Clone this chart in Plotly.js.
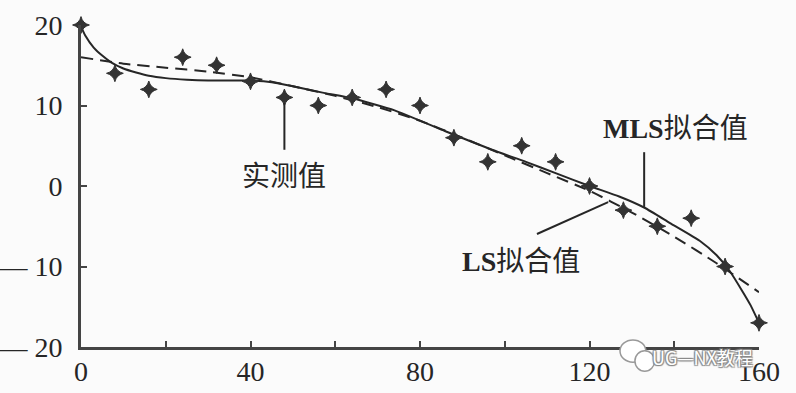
<!DOCTYPE html>
<html>
<head>
<meta charset="utf-8">
<script src="https://cdn.plot.ly/plotly-3.0.1.min.js"></script>
<style>
html,body{margin:0;padding:0;background:#fbfbfb;}
#chart{width:796px;height:393px;}
</style>
</head>
<body>
<div id="chart"></div>
<script>
// Measured values (实测值)
const measX = [0, 8, 16, 24, 32, 40, 48, 56, 64, 72, 80, 88, 96, 104, 112, 120, 128, 136, 144, 152, 160];
const measY = [20, 14, 12, 16, 15, 13, 11, 10, 11, 12, 10, 6, 3, 5, 3, 0, -3, -5, -4, -10, -17];

// MLS fitted curve (MLS拟合值)
const mlsX = [0, 1, 3, 5, 7, 10, 13, 16, 20, 25, 30, 40, 45, 50, 57, 64, 74, 86, 97, 105, 112, 120, 127, 133, 139, 146, 150, 153, 156, 158, 160];
const mlsY = [19.8, 18.7, 17.2, 16.2, 15.4, 14.6, 14.1, 13.7, 13.4, 13.2, 13.1, 13.1, 12.9, 12.4, 11.6, 10.9, 9.4, 6.8, 4.5, 3.0, 1.6, 0, -1.3, -2.7, -4.6, -6.8, -8.6, -10.5, -13, -14.8, -17];

// LS fitted curve (LS拟合值)
const lsX = [0, 10, 20, 30, 40, 50, 60, 70, 80, 90, 100, 110, 120, 130, 140, 150, 160];
const lsY = [16, 15.2, 14.7, 14.2, 13.5, 12.4, 11.2, 9.8, 8.1, 6.0, 3.8, 1.6, -0.6, -3.3, -6.3, -9.6, -13.2];

// Tick labels
const xTickVals = [0, 20, 40, 60, 80, 100, 120, 140, 160];
const xTickText = ['0', '', '40', '', '80', '', '120', '', '160'];
const yTickVals = [-20, -10, 0, 10, 20];
const yTickText = ['— 20', '— 10', '0', '10', '20'];

const ink = '#262626';
const serif = 'Liberation Serif, "Noto Sans CJK SC", serif';
const labelFont = {family: serif, size: 28, color: ink};

const traces = [
  {x: mlsX, y: mlsY, mode: 'lines', line: {color: ink, width: 2, shape: 'spline', smoothing: 0.5}, hoverinfo: 'skip', cliponaxis: false},
  {x: lsX, y: lsY, mode: 'lines', line: {color: ink, width: 2, dash: '12px,7px', shape: 'spline', smoothing: 0.6}, hoverinfo: 'skip', cliponaxis: false},
  {x: measX, y: measY, mode: 'markers', marker: {symbol: 'star-diamond', size: 12, color: '#333', line: {color: '#333', width: 1}}, cliponaxis: false}
];

const layout = {
  width: 796, height: 393,
  margin: {l: 81, r: 37, t: 25, b: 46},
  paper_bgcolor: '#fbfbfb',
  plot_bgcolor: '#fbfbfb',
  showlegend: false,
  xaxis: {
    range: [0, 160], tickvals: xTickVals, ticktext: xTickText,
    showline: true, linecolor: '#444', linewidth: 3, zeroline: false, showgrid: false,
    ticks: 'inside', ticklen: 6, tickwidth: 2, tickcolor: '#444',
    tickfont: {family: serif, size: 28, color: ink}, ticklabelstandoff: -3
  },
  yaxis: {
    range: [-20, 20], tickvals: yTickVals, ticktext: yTickText,
    showline: true, linecolor: '#444', linewidth: 3, zeroline: false, showgrid: false,
    ticks: 'inside', ticklen: 6, tickwidth: 2, tickcolor: '#444',
    tickfont: {family: serif, size: 28, color: ink}, ticklabelstandoff: 10
  },
  shapes: [
    {type: 'line', xref: 'x', yref: 'y', x0: 48, x1: 48, y0: 10.3, y1: 4.5, line: {color: ink, width: 2}},
    {type: 'line', xref: 'x', yref: 'y', x0: 132.9, x1: 132.9, y0: 4.2, y1: -2.6, line: {color: ink, width: 2}},
    {type: 'line', xref: 'x', yref: 'y', x0: 107.6, x1: 124.4, y0: -5.96, y1: -2.0, line: {color: ink, width: 2}},
    {type: 'circle', xref: 'paper', yref: 'paper', x0: 0.795, x1: 0.833, y0: -0.047, y1: 0.022, fillcolor: '#ffffff', line: {color: '#999', width: 1.5}},
    {type: 'circle', xref: 'paper', yref: 'paper', x0: 0.817, x1: 0.846, y0: -0.075, y1: -0.012, fillcolor: '#ffffff', line: {color: '#999', width: 1.5}}
  ],
  annotations: [
    {x: 47.9, y: 1.2, xref: 'x', yref: 'y', text: '实测值', showarrow: false, font: labelFont},
    {x: 140.2, y: 7.1, xref: 'x', yref: 'y', text: '<b>MLS</b>拟合值', showarrow: false, font: labelFont},
    {x: 103.8, y: -9.4, xref: 'x', yref: 'y', text: '<b>LS</b>拟合值', showarrow: false, font: labelFont},
    {x: 0.917, y: -0.03, xref: 'paper', yref: 'paper', xanchor: 'center', yanchor: 'middle', text: 'UG—NX教程', showarrow: false,
     font: {family: '"Noto Sans CJK SC", sans-serif', size: 18, color: '#ffffff', shadow: '1px 1px 1px #888, -1px -1px 1px #888, 1px -1px 1px #888, -1px 1px 1px #888'}}
  ]
};

Plotly.newPlot('chart', traces, layout, {displayModeBar: false, staticPlot: true});
</script>
</body>
</html>
